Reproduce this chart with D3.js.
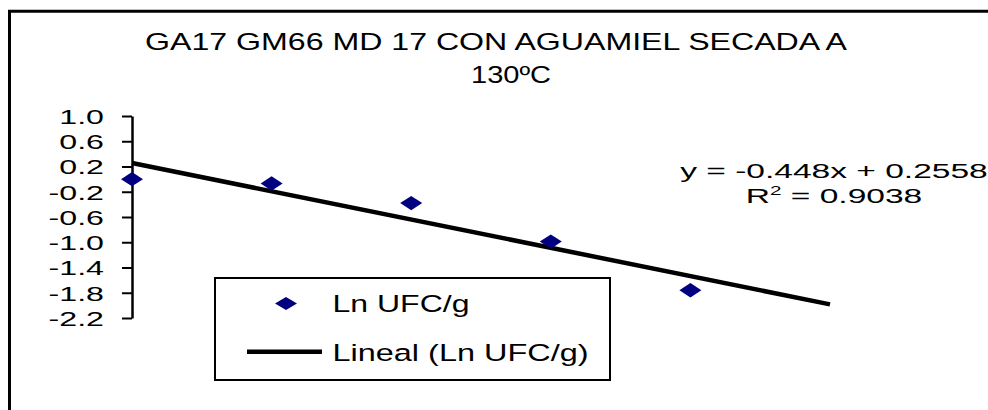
<!DOCTYPE html>
<html>
<head>
<meta charset="utf-8">
<script src="https://cdn.jsdelivr.net/npm/d3@7"></script>
<style>
  html, body { margin: 0; padding: 0; background: #fff; }
  svg { display: block; font-family: "Liberation Sans", Arial, sans-serif; }
</style>
</head>
<body>
<svg id="chart" width="988" height="410"></svg>
<script>
// ---- data ----
const xValues = [0, 1, 2, 3, 4];
const lnUFC = [0.0, -0.07, -0.38, -0.99, -1.76];
const yTicks = [1.0, 0.6, 0.2, -0.2, -0.6, -1.0, -1.4, -1.8, -2.2];
const trendSlope = -0.448;
const trendIntercept = 0.2558;
const trendRange = [0, 5];
const titleLines = ["GA17 GM66 MD 17 CON AGUAMIEL SECADA A", "130\u00baC"];
const seriesName = "Ln UFC/g";
const trendName = "Lineal (Ln UFC/g)";
const eqLine1 = "y = -0.448x + 0.2558";
const r2Value = "0.9038";

const svg = d3.select("#chart");
const navy = "#000080";

// outer frame (extends past right/bottom edges)
svg.append("path")
  .attr("d", "M9.5,420 V11.3 H1000")
  .attr("fill", "none").attr("stroke", "#000").attr("stroke-width", 3);

// title
svg.append("text").attr("x", 145).attr("y", 49.5)
  .attr("font-size", 24.5).attr("textLength", 702).attr("lengthAdjust", "spacingAndGlyphs")
  .text(titleLines[0]);
svg.append("text").attr("x", 471).attr("y", 83)
  .attr("font-size", 24.5).attr("textLength", 80).attr("lengthAdjust", "spacingAndGlyphs")
  .text(titleLines[1]);

// scales
const x = d3.scaleLinear().domain([0, 5]).range([132, 830]);
const y = d3.scaleLinear().domain([-2.2, 1.0]).range([318, 116]);

// y axis
const yAxis = d3.axisLeft(y).tickValues(yTicks).tickFormat(d3.format(".1f"))
  .tickSize(10).tickSizeOuter(0);
const gy = svg.append("g").attr("transform", `translate(${x(0)},0)`).call(yAxis);
gy.select(".domain").attr("stroke", "#000").attr("stroke-width", 2.5);
gy.selectAll(".tick line").attr("stroke", "#000").attr("stroke-width", 2);
gy.selectAll(".tick text")
  .attr("x", 0).attr("dy", "0.38em")
  .attr("font-size", 19.5).attr("fill", "#000")
  .attr("font-family", "Liberation Sans, Arial, sans-serif")
  .attr("transform", "translate(-28,0) scale(1.65,1)")
  .text(d => d3.format(".1f")(d).replace("\u2212", "-"));

// trend line
svg.append("line")
  .attr("x1", x(trendRange[0])).attr("y1", y(trendSlope * trendRange[0] + trendIntercept))
  .attr("x2", x(trendRange[1])).attr("y2", y(trendSlope * trendRange[1] + trendIntercept))
  .attr("stroke", "#000").attr("stroke-width", 4.5);

// diamond marker
const diamond = (w, h) => `M0,${-h}L${w},0L0,${h}L${-w},0Z`;

svg.append("g").selectAll("path")
  .data(xValues.map((xv, i) => ({x: xv, y: lnUFC[i]})))
  .join("path")
  .attr("d", diamond(11, 7.2))
  .attr("transform", d => `translate(${x(d.x)},${y(d.y)})`)
  .attr("fill", navy);

// equation text
const eq = svg.append("g").attr("transform", "translate(834,0) scale(1.72,1)");
eq.append("text").attr("x", 0).attr("y", 178.3).attr("text-anchor", "middle")
  .attr("font-size", 19.5).text(eqLine1);
const r2 = eq.append("text").attr("x", 0).attr("y", 203.3).attr("text-anchor", "middle")
  .attr("font-size", 19.5);
r2.append("tspan").text("R");
r2.append("tspan").attr("font-size", 12).attr("dy", -8).text("2");
r2.append("tspan").attr("dy", 8).text(" = " + r2Value);

// legend
const lg = svg.append("g");
lg.append("rect").attr("x", 215).attr("y", 278).attr("width", 395).attr("height", 102)
  .attr("fill", "#fff").attr("stroke", "#000").attr("stroke-width", 2);
lg.append("path").attr("d", diamond(11, 6.5))
  .attr("transform", "translate(286,303.5)").attr("fill", navy);
lg.append("text").attr("x", 332.5).attr("y", 312).attr("font-size", 24.5)
  .attr("textLength", 137).attr("lengthAdjust", "spacingAndGlyphs").text(seriesName);
lg.append("line").attr("x1", 247).attr("x2", 322).attr("y1", 351.7).attr("y2", 351.7)
  .attr("stroke", "#000").attr("stroke-width", 4.5);
lg.append("text").attr("x", 332.5).attr("y", 360.5).attr("font-size", 24.5)
  .attr("textLength", 256).attr("lengthAdjust", "spacingAndGlyphs").text(trendName);
</script>
</body>
</html>
